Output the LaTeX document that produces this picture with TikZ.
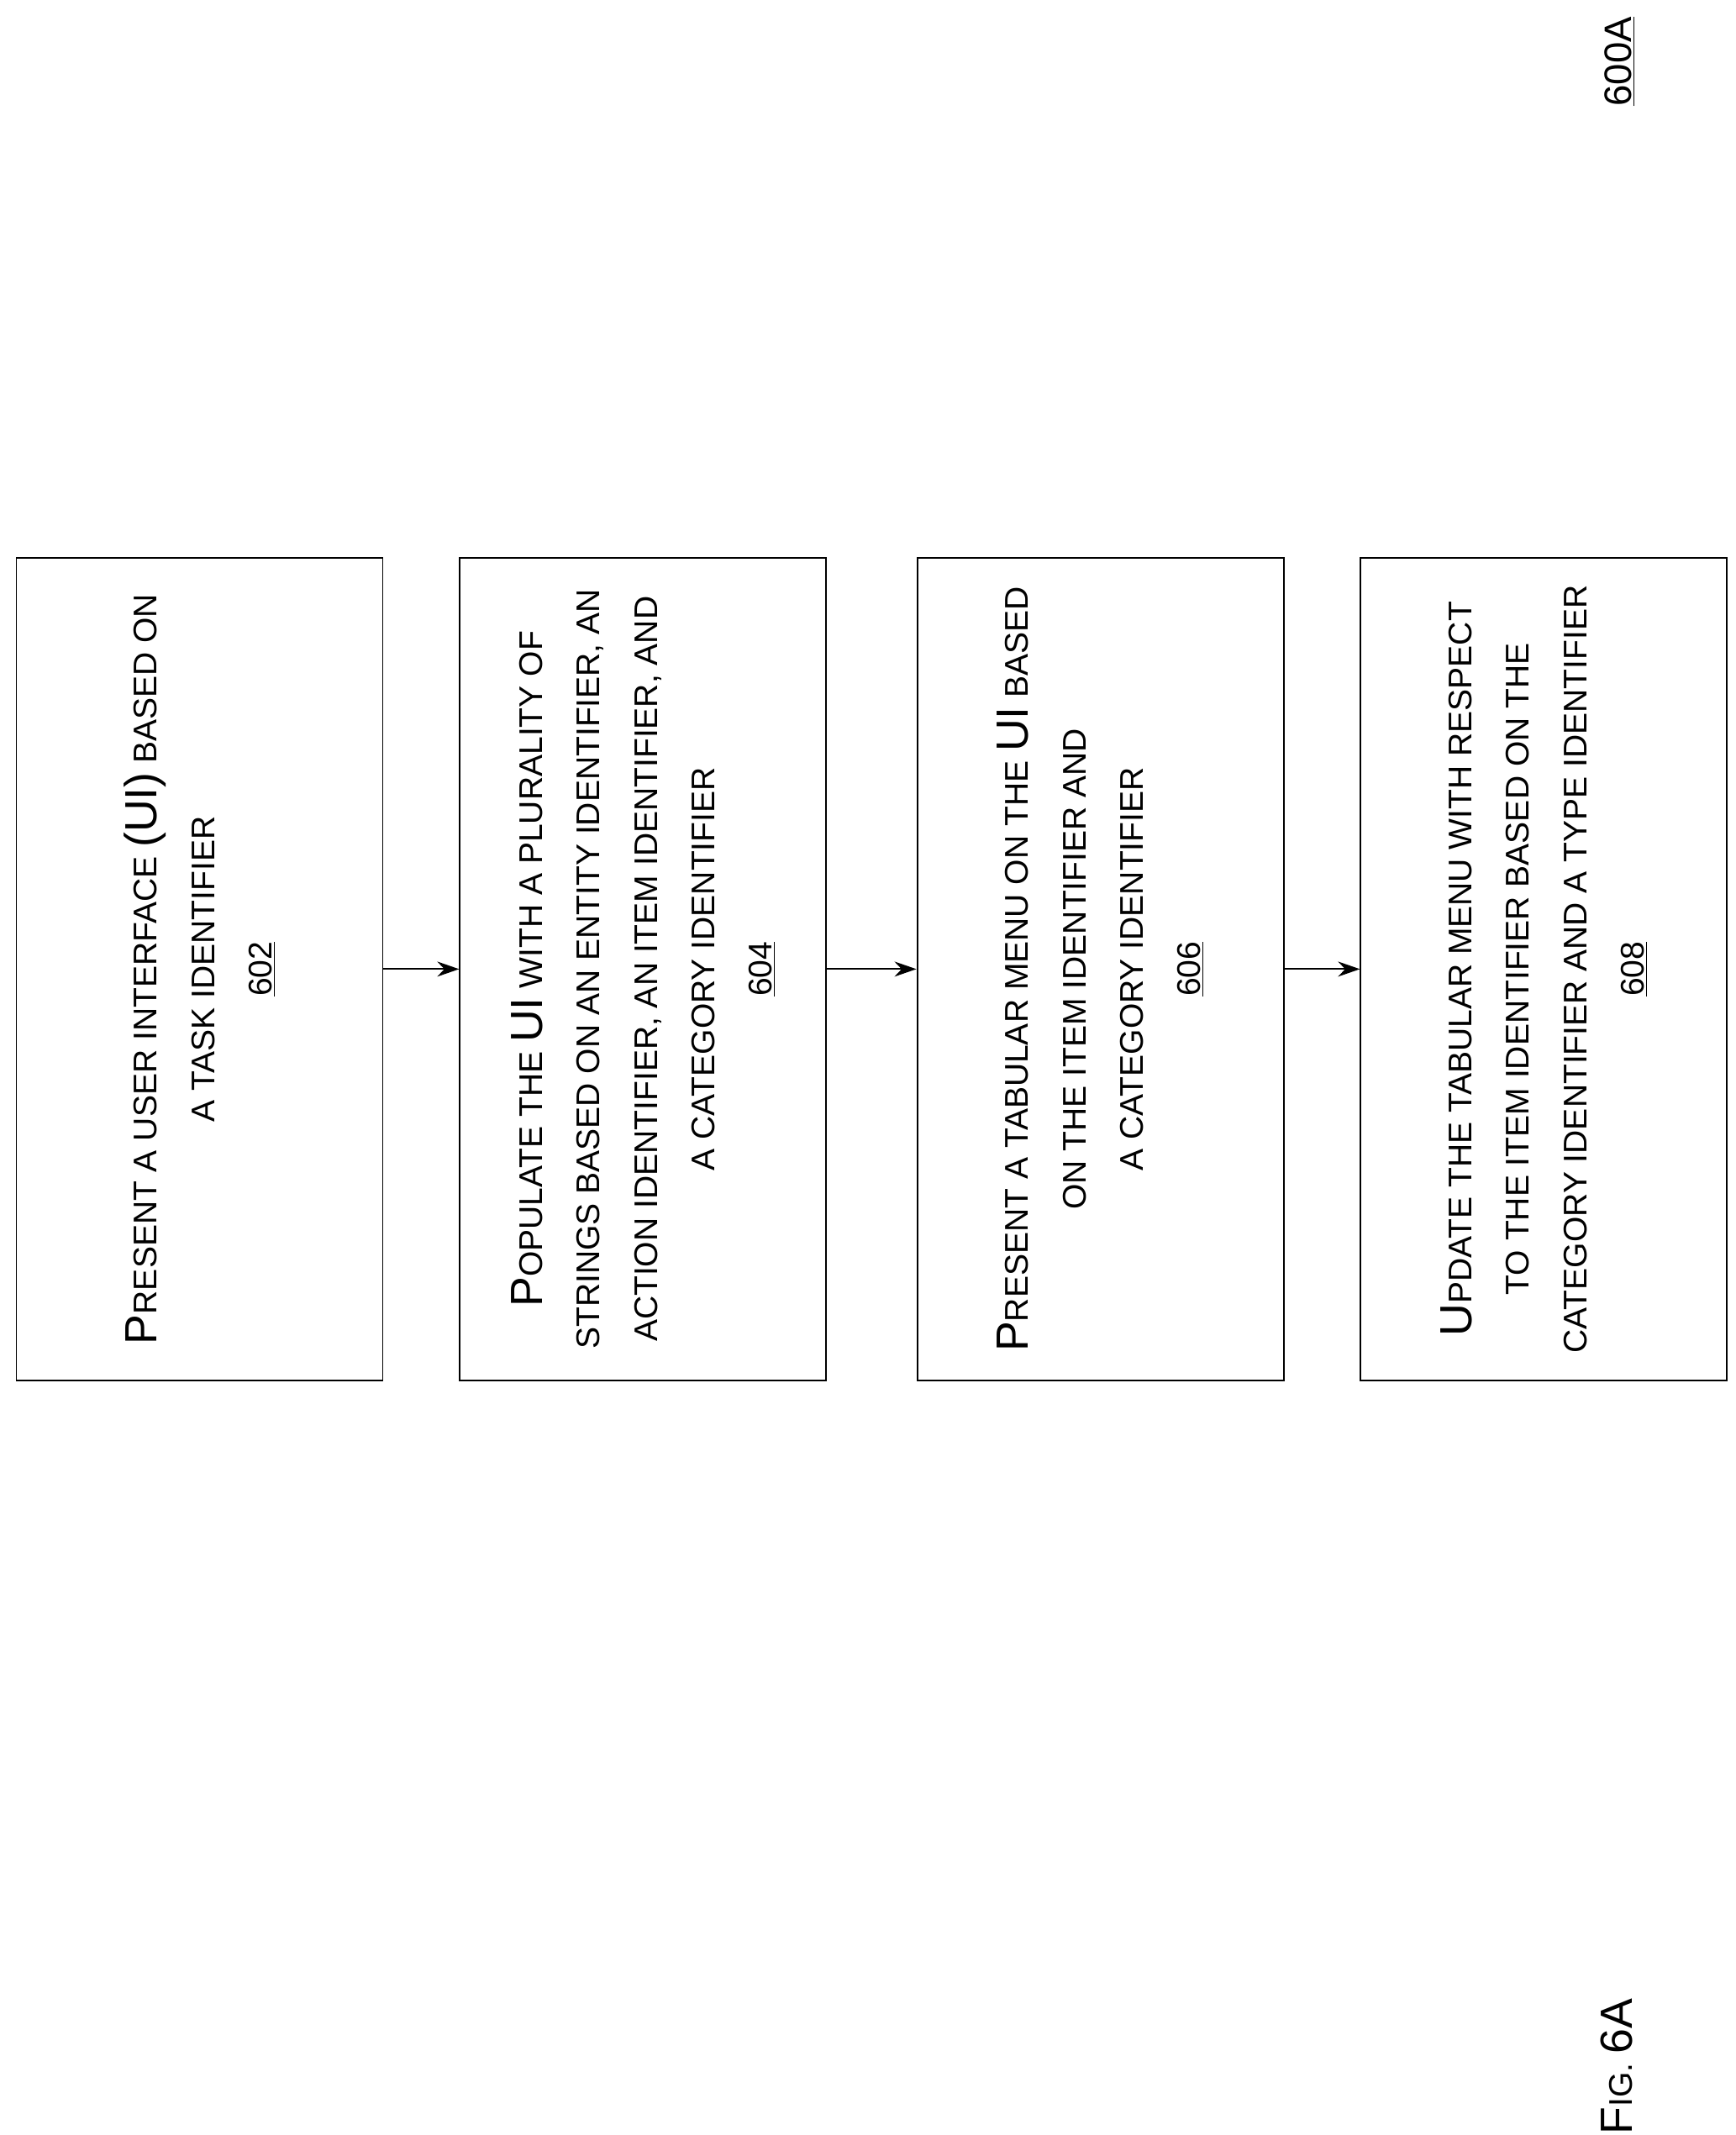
\documentclass[tikz,border=0pt]{standalone}
\usepackage{fontspec}
\setmainfont{Liberation Sans}
\usetikzlibrary{arrows.meta}
\newcommand\BL[1]{{\fontsize{33}{42}\selectfont #1}}
\tikzset{box/.style={draw,line width=1.2pt,minimum width=268pt,minimum height=602pt,inner sep=0},
 txt/.style={rotate=90,align=center,font=\fontsize{24}{42}\selectfont},
 arr/.style={-{Stealth[length=16pt,width=11pt]},line width=1.2pt}}
\begin{document}
\begin{tikzpicture}[x=1pt,y=-1pt]
\useasboundingbox (0,0) rectangle (1270,1562);
\node[box] (b1) at (146,709) {};
\node[box] (b2) at (470.5,709) {};
\node[box] (b3) at (805,709) {};
\node[box] (b4) at (1129.5,709) {};
\node[txt] (t1) at (b1) {\BL{P}RESENT A USER INTERFACE \BL{(UI)} BASED ON\\A TASK IDENTIFIER\\\underline{602}};
\node[txt] (t2) at (b2) {\BL{P}OPULATE THE \BL{UI} WITH A PLURALITY OF\\STRINGS BASED ON AN ENTITY IDENTIFIER, AN\\ACTION IDENTIFIER, AN ITEM IDENTIFIER, AND\\A CATEGORY IDENTIFIER\\\underline{604}};
\node[txt] (t3) at (b3) {\BL{P}RESENT A TABULAR MENU ON THE \BL{UI} BASED\\ON THE ITEM IDENTIFIER AND\\A CATEGORY IDENTIFIER\\\underline{606}};
\node[txt] (t4) at (b4) {\BL{U}PDATE THE TABULAR MENU WITH RESPECT\\TO THE ITEM IDENTIFIER BASED ON THE\\CATEGORY IDENTIFIER AND A TYPE IDENTIFIER\\\underline{608}};
\draw[arr] (b1.east) -- (b2.west);
\draw[arr] (b2.east) -- (b3.west);
\draw[arr] (b3.east) -- (b4.west);
\node[txt,font=\fontsize{28}{30}\selectfont] (lab) at (1185,45) {\underline{600A}};
\node[txt] (fig) at (1183,1512) {\BL{F}IG. \BL{6A}};
\end{tikzpicture}
\end{document}
